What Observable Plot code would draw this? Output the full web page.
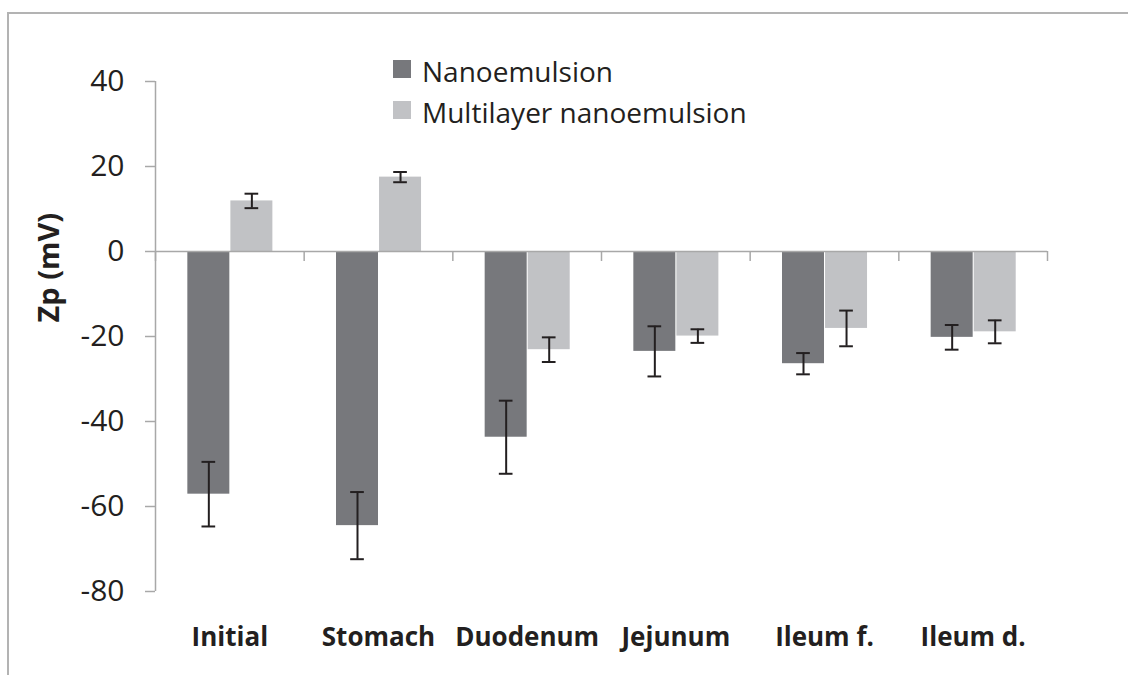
<!DOCTYPE html>
<html>
<head>
<meta charset="utf-8">
<script src="https://cdn.jsdelivr.net/npm/d3@7"></script>
<script src="https://cdn.jsdelivr.net/npm/@observablehq/plot@0.6"></script>
<style>
  html, body { margin: 0; padding: 0; background: #fff; }
  #wrap { position: relative; width: 1128px; height: 675px; overflow: hidden; font-family: "Open Sans", sans-serif; }
  #frame { position: absolute; left: 7px; top: 12px; right: -4px; bottom: -4px; border-top: 2px solid #b3b3b3; border-left: 2px solid #b3b3b3; }
  #chart { position: absolute; left: 0; top: 0; }
  #legend { position: absolute; left: 393px; top: 51px; color: #231f20; font-size: 28px; }
  .row { display: flex; align-items: center; height: 41px; line-height: 41px; white-space: nowrap; }
  .sw { width: 18px; height: 18px; margin-right: 11px; position: relative; top: -3px; }
</style>
</head>
<body>
<div id="wrap">
  <div id="frame"></div>
  <div id="chart"></div>
  <div id="legend"></div>
</div>
<script>
// ---- data ----
const categories = ["Initial", "Stomach", "Duodenum", "Jejunum", "Ileum f.", "Ileum d."];
const seriesNames = ["Nanoemulsion", "Multilayer nanoemulsion"];
const nanoValues = [-57.1, -64.5, -43.7, -23.5, -26.4, -20.2];
const nanoErrors = [7.6, 7.9, 8.6, 5.9, 2.5, 2.9];
const multiValues = [11.9, 17.5, -23.1, -19.9, -18.1, -18.9];
const multiErrors = [1.7, 1.2, 2.9, 1.6, 4.2, 2.7];
const yTicks = [-80, -60, -40, -20, 0, 20, 40];

// ---- styles ----
const colors = ["#77787c", "#c1c2c5"];
const axisGray = "#a8a8a8";
const barW = 0.2825;   // bar width as fraction of a category band
const capHalf = 0.046; // error-bar cap half width (band units)
const tickLen = 2.35;  // category separator tick length (y units)

const rows = [];
categories.forEach((c, i) => {
  rows.push({cat: c, i, s: 0, v: nanoValues[i], e: nanoErrors[i]});
  rows.push({cat: c, i, s: 1, v: multiValues[i], e: multiErrors[i]});
});
const x1 = d => d.i + 0.5 + (d.s === 0 ? -barW : 0.007);
const x2 = d => d.i + 0.5 + (d.s === 0 ? 0 : barW + 0.007);
const xc = d => (x1(d) + x2(d)) / 2;

const bounds = d3.range(categories.length + 1);
const centers = categories.map((c, i) => i + 0.5);

const plot = Plot.plot({
  width: 1128,
  height: 675,
  marginLeft: 155,
  marginRight: 81,
  marginTop: 81,
  marginBottom: 84,
  style: {fontFamily: "'Open Sans', sans-serif", color: "#231f20", background: "transparent"},
  x: {domain: [0, categories.length], axis: null},
  y: {domain: [-80, 40], axis: null},
  marks: [
    Plot.rectY(rows, {x1, x2, y1: 0, y2: "v", fill: d => colors[d.s]}),
    Plot.ruleY([0], {x1: 0, x2: categories.length, stroke: axisGray, strokeWidth: 1.5}),
    Plot.ruleX(bounds, {x: d => d, y1: 0, y2: -tickLen, stroke: axisGray, strokeWidth: 1.5}),
    Plot.ruleX([0], {y1: -80, y2: 40, stroke: axisGray, strokeWidth: 1.5}),
    Plot.ruleX(rows, {x: xc, y1: d => d.v - d.e, y2: d => d.v + d.e, stroke: "#231f20", strokeWidth: 2}),
    Plot.ruleY(rows, {y: d => d.v - d.e, x1: d => xc(d) - capHalf, x2: d => xc(d) + capHalf, stroke: "#231f20", strokeWidth: 2}),
    Plot.ruleY(rows, {y: d => d.v + d.e, x1: d => xc(d) - capHalf, x2: d => xc(d) + capHalf, stroke: "#231f20", strokeWidth: 2}),
    Plot.axisY(yTicks, {tickSize: 10, tickPadding: 21, fontSize: 30, stroke: axisGray, fill: "#231f20", strokeWidth: 1.5, label: null, tickFormat: d => String(d)}),
    Plot.axisX(centers, {tickSize: 0, tickPadding: 36, fontSize: 26, fontWeight: "bold", fill: "#231f20", label: null, tickFormat: d => categories[Math.floor(d)]}),
    Plot.text(["Zp (mV)"], {frameAnchor: "left", rotate: -90, dx: -106, dy: -14, fontSize: 29, fontWeight: "bold", fill: "#231f20"})
  ]
});
document.getElementById("chart").appendChild(plot);

const legend = document.getElementById("legend");
seriesNames.forEach((name, k) => {
  const row = document.createElement("div");
  row.className = "row";
  const sw = document.createElement("span");
  sw.className = "sw";
  sw.style.background = colors[k];
  const t = document.createElement("span");
  t.textContent = name;
  row.appendChild(sw);
  row.appendChild(t);
  legend.appendChild(row);
});
</script>
</body>
</html>
